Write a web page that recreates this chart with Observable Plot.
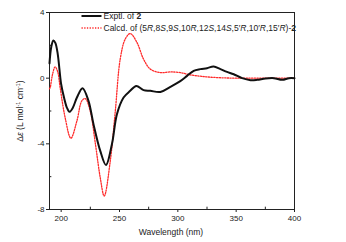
<!DOCTYPE html>
<html><head><meta charset="utf-8">
<script src="https://cdn.jsdelivr.net/npm/d3@7"></script>
<script src="https://cdn.jsdelivr.net/npm/@observablehq/plot@0.6"></script>
<style>
html,body{margin:0;padding:0;background:#fff;}
#chart{position:relative;width:346px;height:242px;}
</style>
</head><body><div id="chart"></div>
<script>
// Experimental CD (black)
const exptWl = [190,191.5,193.3,195,197,200,202.5,204.9,207.1,210,213.5,218.3,223.4,227.7,233.5,238.4,243.5,247.8,253.5,259.2,264.4,270.6,276.4,285,293.6,302.1,307.9,313.6,319.3,325,330.7,336.5,342.2,347.9,355.1,362.3,368,375.2,382.3,389.5,395.2,400];
const exptDe = [0.9,1.9,2.3,2.15,1.5,-0.37,-1.2,-1.79,-2.05,-1.8,-1.18,-0.61,-1.38,-2.8,-4.43,-5.29,-4.02,-2.2,-1.18,-0.77,-0.47,-0.73,-0.77,-0.84,-0.53,-0.18,0.14,0.45,0.55,0.61,0.71,0.55,0.38,0.24,0.0,-0.12,-0.1,-0.02,0.0,-0.1,0.0,0.0];
// Calculated ECD (red dotted)
const calcWl = [190,190.6,192.5,194.8,197,199.1,203.4,208.3,213.5,217.7,220.6,224.9,229.2,233.5,236.9,242.1,246.4,250.6,254.9,259.2,265,270.6,276.4,285,293.6,302.1,310.7,319.3,327.9,339,350,370,400];
const calcDe = [-0.65,-0.57,0.2,0.69,0.4,-0.57,-2.4,-3.66,-2.6,-1.38,-1.24,-2.0,-3.93,-6.06,-7.18,-5.04,-2.0,1.16,2.38,2.72,2.17,1.16,0.55,0.34,0.38,0.34,0.2,0.12,0.06,0.02,0,0,0];
const xTicks = [200,250,300,350,400];
const xMinor = [225,275,325,375];
const yTicks = [-8,-4,0,4];
const yMinor = [-6,-2,2];
const legendLabels = ["Exptl. of ", "Calcd. of "];

const expt = exptWl.map((w,i)=>({w, v: exptDe[i]}));
const calc = calcWl.map((w,i)=>({w, v: calcDe[i]}));

const font = "'Liberation Sans', Arial, sans-serif";
const red = "#ff2a2a";
const dash = "1.3,1.4";
const plot = Plot.plot({
  width: 346, height: 242,
  marginLeft: 49, marginRight: 52, marginTop: 12, marginBottom: 33,
  style: {fontFamily: font, fontSize: "8px", color: "#222", background: "#fff"},
  x: {domain: [190,400], ticks: xTicks, tickSize: 3, tickPadding: 3, label: null, tickFormat: d=>String(d)},
  y: {domain: [-8,4], ticks: yTicks, tickSize: 3, tickPadding: 2, label: null, tickFormat: d=>String(d)},
  marks: [
    Plot.frame({stroke: "#222", strokeWidth: 1}),
    Plot.ruleX(xMinor, {x: d=>d, y1: -8, y2: -7.86, stroke: "#222"}),
    Plot.ruleY(yMinor, {y: d=>d, x1: 190, x2: 192, stroke: "#222"}),
    Plot.line(calc, {x: "w", y: "v", curve: "catmull-rom", stroke: red, strokeWidth: 1.3, strokeDasharray: dash}),
    Plot.line(expt, {x: "w", y: "v", curve: "catmull-rom", stroke: "#111", strokeWidth: 2})
  ]
});
document.getElementById("chart").appendChild(plot);

const svg = d3.select(plot);
// axis titles
svg.append("text").attr("x", 171).attr("y", 235).attr("text-anchor","middle")
  .attr("font-family", font).attr("font-size", 8.5).attr("fill","#222").text("Wavelength (nm)");
const yl = svg.append("text").attr("transform","translate(23,111) rotate(-90)").attr("text-anchor","middle")
  .attr("font-family", font).attr("font-size", 8.5).attr("fill","#222");
yl.append("tspan").text("Δ");
yl.append("tspan").attr("font-style","italic").text("ε");
yl.append("tspan").text(" (L mol");
yl.append("tspan").attr("font-size",5.5).attr("dy",-3).text("-1");
yl.append("tspan").attr("dy",3).text(" cm");
yl.append("tspan").attr("font-size",5.5).attr("dy",-3).text("-1");
yl.append("tspan").attr("dy",3).text(")");

// legend
const lg = svg.append("g").attr("font-family", font).attr("font-size", 8.5).attr("fill","#222").attr("text-anchor","start");
lg.append("line").attr("x1",81.5).attr("x2",101.5).attr("y1",16).attr("y2",16).attr("stroke","#111").attr("stroke-width",2);
lg.append("line").attr("x1",81.5).attr("x2",101.5).attr("y1",28).attr("y2",28).attr("stroke",red).attr("stroke-width",1.3).attr("stroke-dasharray",dash);
const t1 = lg.append("text").attr("x",103.5).attr("y",19).attr("text-anchor","start");
t1.append("tspan").text(legendLabels[0]);
t1.append("tspan").attr("font-weight","bold").text("2");
const t2 = lg.append("text").attr("x",103.5).attr("y",31).attr("text-anchor","start");
t2.append("tspan").text(legendLabels[1] + "(5");
const parts = [["R",",8"],["S",",9"],["S",",10"],["R",",12"],["S",",14"],["S",",5′"],["R",",10′"],["R",",15′"],["R",")-"]];
parts.forEach(([it, rest])=>{ t2.append("tspan").attr("font-style","italic").text(it); t2.append("tspan").text(rest); });
t2.append("tspan").attr("font-weight","bold").text("2");
</script>
</body></html>
